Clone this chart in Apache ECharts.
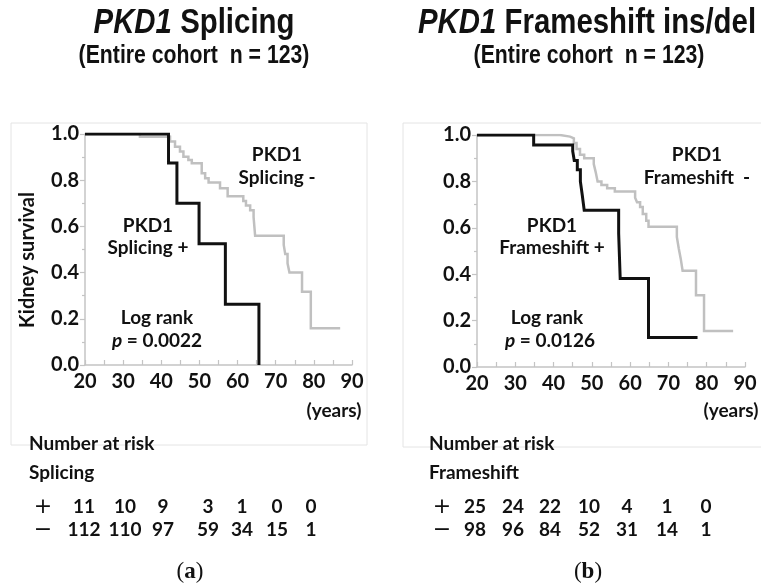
<!DOCTYPE html>
<html>
<head>
<meta charset="utf-8">
<script src="https://cdn.jsdelivr.net/npm/echarts@6/dist/echarts.min.js"></script>
<style>html,body{margin:0;padding:0;background:#fff}#c{width:761px;height:588px}</style>
</head>
<body>
<div id="c"></div>
<script>
// ---- data ----
const xTicks = [20, 30, 40, 50, 60, 70, 80, 90];
const yTicks = [0.0, 0.2, 0.4, 0.6, 0.8, 1.0];
const splicingPlus = [[20,1],[41.9,0.875],[44.1,0.70],[49.9,0.525],[56.8,0.2625],[65.6,0]];
const splicingMinus = [[20,1],[34.4,0.988],[42.3,0.967],[43.6,0.945],[44.9,0.924],[45.8,0.902],[47.1,0.887],[48.0,0.873],[50.6,0.83],[51.5,0.808],[52.4,0.79],[55.4,0.765],[57.4,0.73],[61.5,0.71],[62.2,0.69],[63.3,0.67],[64.2,0.64],[64.6,0.56],[72.1,0.52],[72.5,0.48],[73.1,0.44],[73.6,0.40],[76.9,0.317],[79.2,0.159],[86.9,0.159]];
const frameshiftPlus = [[20,1],[34.8,0.957],[45.0,0.93],[45.4,0.89],[46.2,0.85],[47.0,0.80],[47.5,0.74],[48.0,0.676],[57.0,0.576],[57.4,0.381],[64.8,0.127],[77.6,0.127]];
const frameshiftMinus = [[20,1],[41.7,0.993],[44.3,0.986],[45.3,0.965],[46.0,0.94],[46.9,0.915],[48.0,0.90],[50.5,0.875],[51.0,0.84],[51.5,0.80],[52.5,0.785],[54.0,0.77],[56.0,0.757],[61.3,0.73],[61.8,0.71],[62.6,0.69],[63.3,0.66],[64.2,0.63],[64.8,0.605],[72.2,0.561],[72.7,0.511],[73.2,0.468],[73.7,0.415],[77.2,0.309],[79.3,0.155],[86.9,0.155]];
const splicingRiskPlus = [11, 10, 9, 3, 1, 0, 0];
const splicingRiskMinus = [112, 110, 97, 59, 34, 15, 1];
const frameshiftRiskPlus = [25, 24, 22, 10, 4, 1, 0];
const frameshiftRiskMinus = [98, 96, 84, 52, 31, 14, 1];

// ---- layout ----
const FONT = 'Lato';
const TXT = '#111';
const AX = '#c4c4c4';
const leftCols = [84, 125, 163, 208, 242, 277, 311];
const rightCols = [475, 513, 550, 589, 627, 667, 706];
const ROW_P = 507, ROW_M = 530;

function xAxisCfg(gi) {
  return {
    type: 'value', gridIndex: gi, min: xTicks[0], max: xTicks[xTicks.length-1], interval: 10,
    axisLine: {show: true, onZero: false, lineStyle: {color: AX, width: 1.5}},
    axisTick: {show: true, inside: true, length: 5, lineStyle: {color: AX, width: 1.2}},
    minorTick: {show: true, splitNumber: 2, length: 5, lineStyle: {color: AX, width: 1.2}},
    splitLine: {show: false},
    axisLabel: {color: TXT, fontFamily: FONT, fontWeight: 'bold', fontSize: 20, margin: 7}
  };
}
function yAxisCfg(gi) {
  return {
    type: 'value', gridIndex: gi, min: yTicks[0], max: yTicks[yTicks.length-1], interval: 0.2,
    axisLine: {show: true, lineStyle: {color: AX, width: 1.5}},
    axisTick: {show: true, inside: false, length: 5, lineStyle: {color: AX, width: 1.2}},
    minorTick: {show: true, splitNumber: 2, length: 3, lineStyle: {color: AX, width: 1.2}},
    splitLine: {show: false},
    axisLabel: {color: TXT, fontFamily: FONT, fontWeight: 'bold', fontSize: 20, margin: 6,
      formatter: v => v.toFixed(1)}
  };
}
function line(gi, data, color, width, z) {
  return {type: 'line', xAxisIndex: gi, yAxisIndex: gi, data: data, step: 'end', showSymbol: false,
    symbol: 'none', z: z, silent: true, animation: false,
    lineStyle: {color: color, width: width, cap: 'butt', join: 'miter'}};
}
function txt(x, y, text, size, opts) {
  opts = opts || {};
  return {type: 'text', x: x, y: y, z: 100, rotation: opts.rotation || 0,
    scaleX: opts.scaleX || 1,
    style: {text: text, fill: TXT, align: opts.align || 'center', verticalAlign: 'middle',
      font: (opts.weight || 'bold') + ' ' + size + 'px ' + (opts.family || FONT), rich: opts.rich}};
}
const SANS = '"Liberation Sans", Arial';
function titleRich(size) {
  return {
    i: {fontStyle: 'italic', fontWeight: 'bold', fontSize: size, fontFamily: SANS, fill: TXT},
    n: {fontStyle: 'normal', fontWeight: 'bold', fontSize: size, fontFamily: SANS, fill: TXT}
  };
}
const pRich = {
  p: {fontStyle: 'italic', fontWeight: 'bold', fontSize: 19, fontFamily: FONT, fill: TXT},
  n: {fontWeight: 'bold', fontSize: 19, fontFamily: FONT, fill: TXT}
};
const serifRich = {b: {fontWeight: 'bold', fontSize: 23, fontFamily: '"Liberation Serif"', fill: TXT}};

const graphics = [
  {type: 'rect', shape: {x: 11, y: 123, width: 356, height: 322}, style: {fill: 'none', stroke: '#e4e4e4', lineWidth: 1}, z: 0},
  {type: 'rect', shape: {x: 403, y: 123, width: 370, height: 324}, style: {fill: 'none', stroke: '#e4e4e4', lineWidth: 1}, z: 0},
  txt(194, 23, '{i|PKD1}{n| Splicing}', 35, {rich: titleRich(35), family: SANS, scaleX: 0.84}),
  txt(194, 56, '(Entire cohort  n = 123)', 25, {family: SANS, scaleX: 0.85}),
  txt(587, 23, '{i|PKD1}{n| Frameshift ins/del}', 35, {rich: titleRich(35), family: SANS, scaleX: 0.84}),
  txt(589, 56, '(Entire cohort  n = 123)', 25, {family: SANS, scaleX: 0.85}),
  txt(28, 260, 'Kidney survival', 20, {rotation: Math.PI / 2}),
  txt(277, 155, 'PKD1', 19), txt(277, 178, 'Splicing -', 19),
  txt(148, 226, 'PKD1', 19), txt(148, 248, 'Splicing +', 19),
  txt(157, 318, 'Log rank', 19),
  txt(157, 341, '{p|p}{n| = 0.0022}', 19, {rich: pRich}),
  txt(697, 155, 'PKD1', 19), txt(697, 178, 'Frameshift  -', 19),
  txt(552, 226, 'PKD1', 19), txt(552, 248, 'Frameshift +', 19),
  txt(547, 318, 'Log rank', 19),
  txt(550, 341, '{p|p}{n| = 0.0126}', 19, {rich: pRich}),
  txt(334, 411, '(years)', 19), txt(731, 411, '(years)', 19),
  txt(29, 444, 'Number at risk', 19, {align: 'left'}),
  txt(29, 473, 'Splicing', 19, {align: 'left'}),
  txt(429, 444, 'Number at risk', 19, {align: 'left'}),
  txt(429, 473, 'Frameshift', 19, {align: 'left'}),
  txt(43, ROW_P, '+', 22, {weight: 'normal', family: '"DejaVu Sans"'}),
  txt(43, ROW_M, '\u2212', 22, {weight: 'normal', family: '"DejaVu Sans"'}),
  txt(442, ROW_P, '+', 22, {weight: 'normal', family: '"DejaVu Sans"'}),
  txt(442, ROW_M, '\u2212', 22, {weight: 'normal', family: '"DejaVu Sans"'}),
  txt(190, 572, '({b|a})', 23, {weight: 'normal', family: '"Liberation Serif"', rich: serifRich}),
  txt(588, 572, '({b|b})', 23, {weight: 'normal', family: '"Liberation Serif"', rich: serifRich})
];
splicingRiskPlus.forEach((v, i) => graphics.push(txt(leftCols[i], ROW_P, String(v), 19)));
splicingRiskMinus.forEach((v, i) => graphics.push(txt(leftCols[i], ROW_M, String(v), 19)));
frameshiftRiskPlus.forEach((v, i) => graphics.push(txt(rightCols[i], ROW_P, String(v), 19)));
frameshiftRiskMinus.forEach((v, i) => graphics.push(txt(rightCols[i], ROW_M, String(v), 19)));

const chart = echarts.init(document.getElementById('c'), null, {renderer: 'canvas'});
chart.setOption({
  animation: false,
  backgroundColor: '#fff',
  grid: [
    {left: 85, top: 134, width: 267, height: 231},
    {left: 477, top: 135, width: 268, height: 232}
  ],
  xAxis: [xAxisCfg(0), xAxisCfg(1)],
  yAxis: [yAxisCfg(0), yAxisCfg(1)],
  series: [
    line(0, splicingMinus, '#c0c0c0', 2.5, 2),
    line(0, splicingPlus, '#111111', 3, 3),
    line(1, frameshiftMinus, '#c0c0c0', 2.5, 2),
    line(1, frameshiftPlus, '#111111', 3, 3)
  ],
  graphic: graphics
});
</script>
</body>
</html>
